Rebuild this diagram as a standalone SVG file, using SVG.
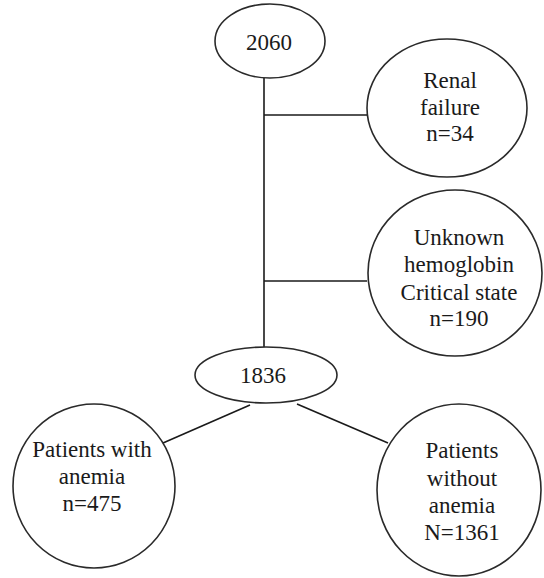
<svg xmlns="http://www.w3.org/2000/svg" width="544" height="578" viewBox="0 0 544 578">
<style>
.n{fill:#fff;stroke:#2a2a2a;stroke-width:1.6}
.c{stroke:#1a1a1a;stroke-width:1.6;fill:none}
text{font-family:"Liberation Serif","Times New Roman",serif;font-size:23px;fill:#1a1a1a;text-anchor:middle}
</style>
<rect width="544" height="578" fill="#fff"/>
<g id="connectors">
<line class="c" x1="264" y1="78" x2="264" y2="347"/>
<line class="c" x1="264" y1="115" x2="367" y2="115"/>
<line class="c" x1="264" y1="281" x2="367" y2="281"/>
<line class="c" x1="250" y1="405" x2="163" y2="443"/>
<line class="c" x1="297" y1="404" x2="388" y2="443"/>
</g>
<g id="n2060">
<ellipse class="n" cx="270" cy="41" rx="55" ry="37"/>
<text x="269" y="50">2060</text>
</g>
<g id="renal">
<ellipse class="n" cx="447" cy="108" rx="80" ry="69"/>
<text x="450" y="88">Renal</text>
<text x="450" y="115">failure</text>
<text x="450" y="141">n=34</text>
</g>
<g id="unknown">
<ellipse class="n" cx="455" cy="273" rx="87" ry="83"/>
<text x="459" y="245">Unknown</text>
<text x="459" y="272">hemoglobin</text>
<text x="459" y="300">Critical state</text>
<text x="459" y="326">n=190</text>
</g>
<g id="n1836">
<ellipse class="n" cx="266" cy="375" rx="71" ry="28"/>
<text x="263" y="383">1836</text>
</g>
<g id="anemia">
<ellipse class="n" cx="94" cy="486" rx="81" ry="82"/>
<text x="92" y="457">Patients with</text>
<text x="92" y="484">anemia</text>
<text x="92" y="511">n=475</text>
</g>
<g id="noanemia">
<ellipse class="n" cx="459" cy="490" rx="82" ry="86"/>
<text x="462" y="458">Patients</text>
<text x="462" y="486">without</text>
<text x="462" y="513">anemia</text>
<text x="462" y="540">N=1361</text>
</g>
</svg>
